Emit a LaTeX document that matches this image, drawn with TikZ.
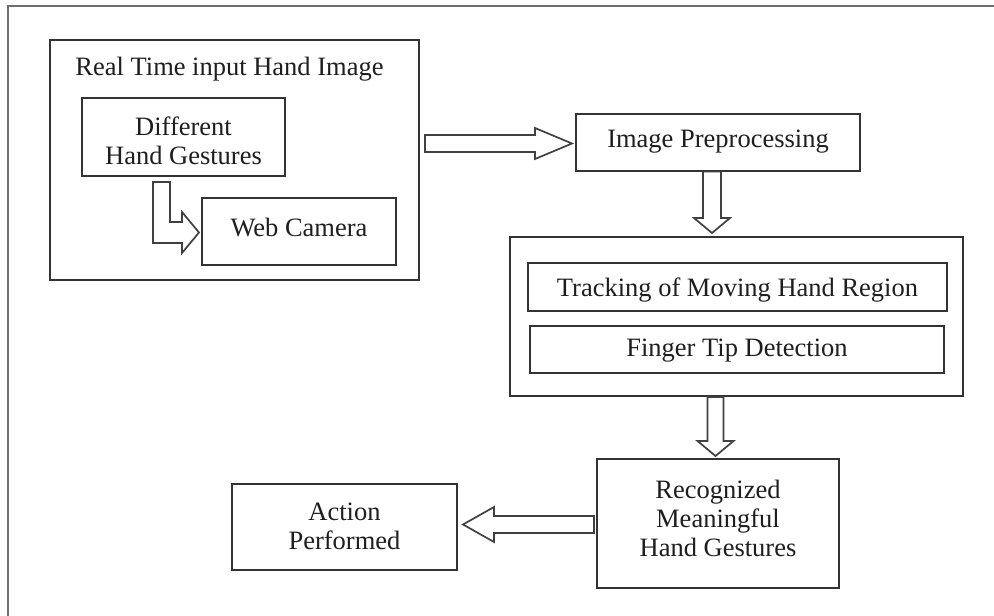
\documentclass[tikz,border=0pt]{standalone}
\usepackage{fontspec}
\setmainfont{Liberation Serif}
\usetikzlibrary{calc}

\definecolor{boxline}{HTML}{333333}
\definecolor{arrowline}{HTML}{404040}
\definecolor{frameline}{HTML}{6E6E6E}
\definecolor{ink}{HTML}{1E1E1E}

\tikzset{
  procbox/.style={draw=boxline, line width=2pt, rectangle, inner sep=0pt},
  boxtext/.style={text=ink, inner sep=0pt, align=center,
    font=\fontsize{26.5}{29}\selectfont},
  % box text placed at the box centre, shifted vertically by #1
  say/.style args={#1:#2}{label={[boxtext, yshift=#1]center:#2}},
  blk/.style={draw=arrowline, line width=1.7pt, fill=white, line join=miter},
}

\begin{document}
\begin{tikzpicture}[x=1pt, y=-1pt]
\useasboundingbox (0,0) rectangle (994,616);

% outer frame (top and left edges)
\draw[frameline, line width=2.6pt] (8,616) -- (8,6) -- (994,6);

% input stage
\node[procbox, minimum width=369pt, minimum height=240pt] (rt) at (234.5,160) {};
\node[boxtext] (rtlabel) at (229.5,69) {Real Time input Hand Image};
\node[procbox, minimum width=203pt, minimum height=78pt,
  say={-4pt:Different\\Hand Gestures}] (dg) at (183.5,137) {};
\node[procbox, minimum width=194pt, minimum height=67pt,
  say={4pt:Web Camera}] (wc) at (299,231.5) {};

% processing stages
\node[procbox, minimum width=284pt, minimum height=57pt,
  say={0pt:Image Preprocessing}] (ip) at (718,142) {};
\node[procbox, minimum width=453pt, minimum height=159pt] (tr) at (736.5,316.5) {};
\node[procbox, minimum width=419pt, minimum height=48pt,
  say={-3pt:Tracking of Moving Hand Region}] (th) at (737.5,287) {};
\node[procbox, minimum width=414pt, minimum height=47pt,
  say={-1pt:Finger Tip Detection}] (ft) at (737,349.5) {};

% output stages
\node[procbox, minimum width=242pt, minimum height=129pt,
  say={5pt:Recognized\\Meaningful\\Hand Gestures}] (rg) at (718,523.5) {};
\node[procbox, minimum width=225pt, minimum height=86pt,
  say={1pt:Action\\Performed}] (ap) at (344.5,527) {};

% bent block arrow: hand gestures -> web camera
\coordinate (b1s) at ($(dg.south west)+(80.5,5)$);
\coordinate (b1t) at ($(wc.west)+(-2,1)$);
\draw[blk] let \p1=(b1s), \p2=(b1t) in
  (\x1-8.5,\y1) -- (\x1-8.5,\y2-10.5) -- (\x2-17,\y2-10.5) -- (\x2-17,\y2-20.5)
  -- (\x2,\y2) -- (\x2-17,\y2+20.5) -- (\x2-17,\y2+10.5) -- (\x1+8.5,\y2+10.5)
  -- (\x1+8.5,\y1) -- cycle;

% right block arrow: input stage -> preprocessing
\coordinate (a1s) at ($(rt.east |- ip.west)+(5,1.5)$);
\coordinate (a1t) at ($(ip.west)+(-3,1.5)$);
\draw[blk] let \p1=(a1s), \p2=(a1t) in
  (\x1,\y1+8.5) -- (\x2-37,\y1+8.5) -- (\x2-37,\y1+15.5) -- (\x2,\y1)
  -- (\x2-37,\y1-15.5) -- (\x2-37,\y1-8.5) -- (\x1,\y1-8.5) -- cycle;

% down block arrow: preprocessing -> tracking stage
\coordinate (a2s) at ($(ip.south)+(-6,0)$);
\coordinate (a2t) at ($(tr.north -| a2s)+(0,-3)$);
\draw[blk] let \p1=(a2s), \p2=(a2t) in
  (\x1-9,\y1) -- (\x1-9,\y2+15) -- (\x1-18,\y2+15) -- (\x2,\y2)
  -- (\x1+18,\y2+15) -- (\x1+9,\y2+15) -- (\x1+9,\y1) -- cycle;

% down block arrow: tracking stage -> recognition
\coordinate (a3s) at ($(tr.south)+(-21,0)$);
\coordinate (a3t) at ($(rg.north -| a3s)+(0,-2)$);
\draw[blk] let \p1=(a3s), \p2=(a3t) in
  (\x1-8,\y1) -- (\x1-8,\y2+15) -- (\x1-18,\y2+15) -- (\x2,\y2)
  -- (\x1+18,\y2+15) -- (\x1+8,\y2+15) -- (\x1+8,\y1) -- cycle;

% left block arrow: recognition -> action
\coordinate (a4s) at ($(rg.west)+(-2,1)$);
\coordinate (a4t) at ($(ap.east |- rg.west)+(5,1)$);
\draw[blk] let \p1=(a4s), \p2=(a4t) in
  (\x1,\y1+8.5) -- (\x2+31,\y1+8.5) -- (\x2+31,\y1+17.5) -- (\x2,\y1)
  -- (\x2+31,\y1-17.5) -- (\x2+31,\y1-8.5) -- (\x1,\y1-8.5) -- cycle;
\end{tikzpicture}
\end{document}
